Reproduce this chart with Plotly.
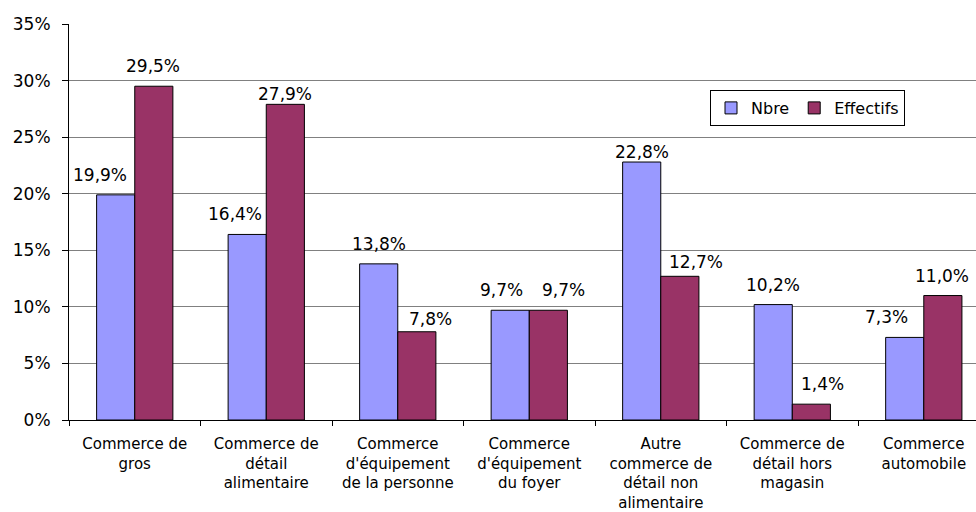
import plotly.graph_objects as go

categories = [
    "Commerce de<br>gros",
    "Commerce de<br>détail<br>alimentaire",
    "Commerce<br>d'équipement<br>de la personne",
    "Commerce<br>d'équipement<br>du foyer",
    "Autre<br>commerce de<br>détail non<br>alimentaire",
    "Commerce de<br>détail hors<br>magasin",
    "Commerce<br>automobile",
]
nbre = [19.9, 16.4, 13.8, 9.7, 22.8, 10.2, 7.3]
effectifs = [29.5, 27.9, 7.8, 9.7, 12.7, 1.4, 11.0]
y_ticks = [0, 5, 10, 15, 20, 25, 30, 35]
y_tick_labels = [f"{t}%" for t in y_ticks]

# label placement tweaks (pixels), as in the original chart
nbre_dx = [-16, -12, 0, -9, 0, 0, -18]
nbre_gap = [14, 14, 14, 14, 4, 14, 14]
eff_dx = [-1, 0, 14, 15, 16, 11, -1]
eff_gap = [14, 4, 7, 14, 8, 14, 14]

FONT = "DejaVu Sans"
W, H = 976, 512
ML, MR, MT, MB = 69, 0, 24, 92
xr = [-0.5, 6.397]
bargap = 0.42
plot_w = W - ML - MR
cat_px = plot_w / (xr[1] - xr[0])
bar_off = (1 - bargap) / 4 * cat_px

fig = go.Figure()
fig.add_trace(go.Bar(x=categories, y=nbre, name="Nbre",
                     marker=dict(color="#9999FF", line=dict(color="black", width=1))))
fig.add_trace(go.Bar(x=categories, y=effectifs, name="Effectifs",
                     marker=dict(color="#993366", line=dict(color="black", width=1))))

def fmt(v):
    return f"{v:.1f}".replace(".", ",") + "%"

for i, v in enumerate(nbre):
    fig.add_annotation(x=categories[i], y=v, text=fmt(v), showarrow=False, yanchor="bottom",
                       xshift=-bar_off + nbre_dx[i], yshift=nbre_gap[i] - 6,
                       font=dict(family=FONT, size=17, color="black"))
for i, v in enumerate(effectifs):
    fig.add_annotation(x=categories[i], y=v, text=fmt(v), showarrow=False, yanchor="bottom",
                       xshift=bar_off + eff_dx[i], yshift=eff_gap[i] - 6,
                       font=dict(family=FONT, size=17, color="black"))

fig.update_layout(
    width=W, height=H,
    margin=dict(l=ML, r=MR, t=MT, b=MB, pad=0, autoexpand=False),
    paper_bgcolor="white", plot_bgcolor="white",
    barmode="group", bargap=bargap, bargroupgap=0,
    font=dict(family=FONT, size=17, color="black"),
    legend=dict(orientation="h", x=(710 - ML) / plot_w, y=(420 - 90) / (H - MT - MB),
                xanchor="left", yanchor="top", bgcolor="white",
                bordercolor="black", borderwidth=1, itemwidth=30,
                font=dict(family=FONT, size=16, color="black"),
                tracegroupgap=0),
    showlegend=True,
)
fig.update_xaxes(
    type="category", range=xr, tickson="boundaries",
    showline=True, linecolor="black", linewidth=1, automargin=False,
    ticks="outside", ticklen=5, tickcolor="black",
    showgrid=False, zeroline=False, ticklabelstandoff=10,
    tickfont=dict(family=FONT, size=15, color="black"),
)
fig.update_yaxes(
    range=[0, 35], tickmode="array", tickvals=y_ticks, ticktext=y_tick_labels,
    showline=True, linecolor="black", linewidth=1, automargin=False,
    ticks="outside", ticklen=6, tickcolor="black",
    showgrid=True, gridcolor="#808080", gridwidth=1,
    zeroline=False, ticklabelstandoff=8,
    tickfont=dict(family=FONT, size=17, color="black"),
)

fig.write_html("out.html", config={"displayModeBar": False},
               post_script="document.body.style.margin='0';document.body.style.overflow='hidden';")
